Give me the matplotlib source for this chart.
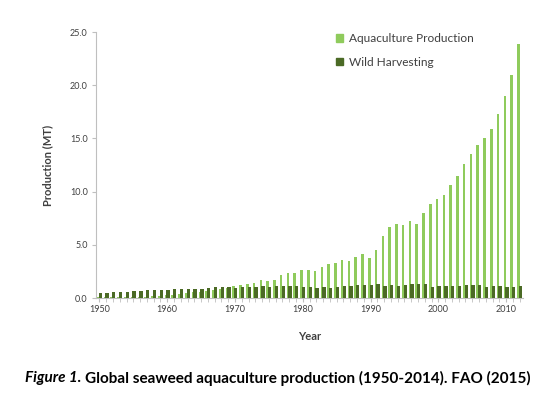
import numpy as np
import matplotlib
matplotlib.use("Agg")
import matplotlib.pyplot as plt
from matplotlib.patches import Patch

plt.rcParams['font.family'] = ['Lato', 'DejaVu Sans']

# ── data (million tonnes) ───────────────────────────────────
years = list(range(1950, 2013))

aquaculture = [
    0.05, 0.05, 0.06, 0.07, 0.08, 0.10, 0.12, 0.14, 0.17, 0.20,   # 1950s
    0.25, 0.30, 0.35, 0.45, 0.55, 0.60, 0.70, 0.75, 0.80, 0.90,   # 1960s
    1.10, 1.19, 1.29, 1.41, 1.66, 1.60, 1.66, 2.13, 2.38, 2.38,   # 1970s
    2.67, 2.60, 2.55, 2.90, 3.23, 3.30, 3.54, 3.45, 3.85, 4.10,   # 1980s
    3.80, 4.55, 5.80, 6.67, 6.93, 6.85, 7.24, 6.93, 8.00, 8.87,   # 1990s
    9.28, 9.70, 10.60, 11.44, 12.63, 13.50, 14.35, 15.00, 15.85, 17.30,  # 2000s
    18.95, 21.00, 23.85,
]

wild = [
    0.48, 0.45, 0.58, 0.58, 0.55, 0.65, 0.65, 0.72, 0.75, 0.72,
    0.75, 0.80, 0.85, 0.80, 0.82, 0.88, 0.95, 1.05, 1.05, 1.00,
    0.98, 1.05, 1.08, 1.02, 1.10, 1.08, 1.10, 1.15, 1.10, 1.10,
    1.05, 1.00, 0.90, 1.05, 0.95, 1.05, 1.15, 1.15, 1.20, 1.20,
    1.25, 1.30, 1.15, 1.20, 1.15, 1.20, 1.30, 1.30, 1.35, 1.05,
    1.15, 1.15, 1.15, 1.15, 1.20, 1.20, 1.20, 1.05, 1.10, 1.15,
    1.05, 1.05, 1.10,
]

year_labels = [1950, 1960, 1970, 1980, 1990, 2000, 2010]
y_ticks = [0, 5, 10, 15, 20, 25]

LIGHT = "#8FCB5C"
DARK = "#4B6A25"
GREY = "#404040"

fig = plt.figure(figsize=(5.4, 3.93), dpi=100)
ax = fig.add_axes([96 / 540, 1 - 298 / 393, 427 / 540, 266 / 393])

x = np.arange(len(years))
ax.bar(x - 0.18, aquaculture, width=0.38, color=LIGHT, zorder=2)
ax.bar(x + 0.12, wild, width=0.5, color=DARK, zorder=3)

ax.set_xlim(-0.5, len(years) - 0.5)
ax.set_ylim(0, 25)

ax.set_yticks(y_ticks)
ax.set_yticklabels([f"{v:.1f}" for v in y_ticks], fontsize=6.5, color=GREY)

# minor ticks on every year, labels every decade
ax.set_xticks([years.index(y) for y in year_labels])
ax.set_xticklabels([str(y) for y in year_labels], fontsize=6.5, color=GREY)
ax.set_xticks(x, minor=True)
ax.tick_params(axis="x", which="both", length=3, color="#BFBFBF", pad=2)
ax.tick_params(axis="y", length=3, color="#BFBFBF", pad=3)

for s in ["top", "right"]:
    ax.spines[s].set_visible(False)
for s in ["left", "bottom"]:
    ax.spines[s].set_color("#BFBFBF")
    ax.spines[s].set_linewidth(0.8)

ax.set_ylabel("Production (MT)", fontsize=8, fontweight="bold", color=GREY, labelpad=12)
ax.set_xlabel("Year", fontsize=8, fontweight="bold", color=GREY, labelpad=12)

handles = [Patch(color=LIGHT, label="Aquaculture Production"),
           Patch(color=DARK, label="Wild Harvesting")]
fig.legend(handles=handles, loc="upper left", bbox_to_anchor=(336 / 540, 1 - 33 / 393),
           frameon=False, fontsize=8.6, handlelength=0.6, handleheight=0.6,
           handletextpad=0.45, labelspacing=1.05, borderpad=0, borderaxespad=0,
           labelcolor=GREY)

# caption: italic "Figure 1." followed by bold text
cap_y = 1 - 378 / 393
t1 = fig.text(25 / 540, cap_y, "Figure 1.", fontsize=11, fontweight="bold",
              fontstyle="italic", va="center", color="black")
fig.canvas.draw()
bb = t1.get_window_extent()
fig.text((bb.x1 + 4) / fig.bbox.width, cap_y,
         "Global seaweed aquaculture production (1950-2014). FAO (2015)",
         fontsize=11, fontweight="bold", va="center", color="black")

fig.savefig("out.png", dpi=100)
